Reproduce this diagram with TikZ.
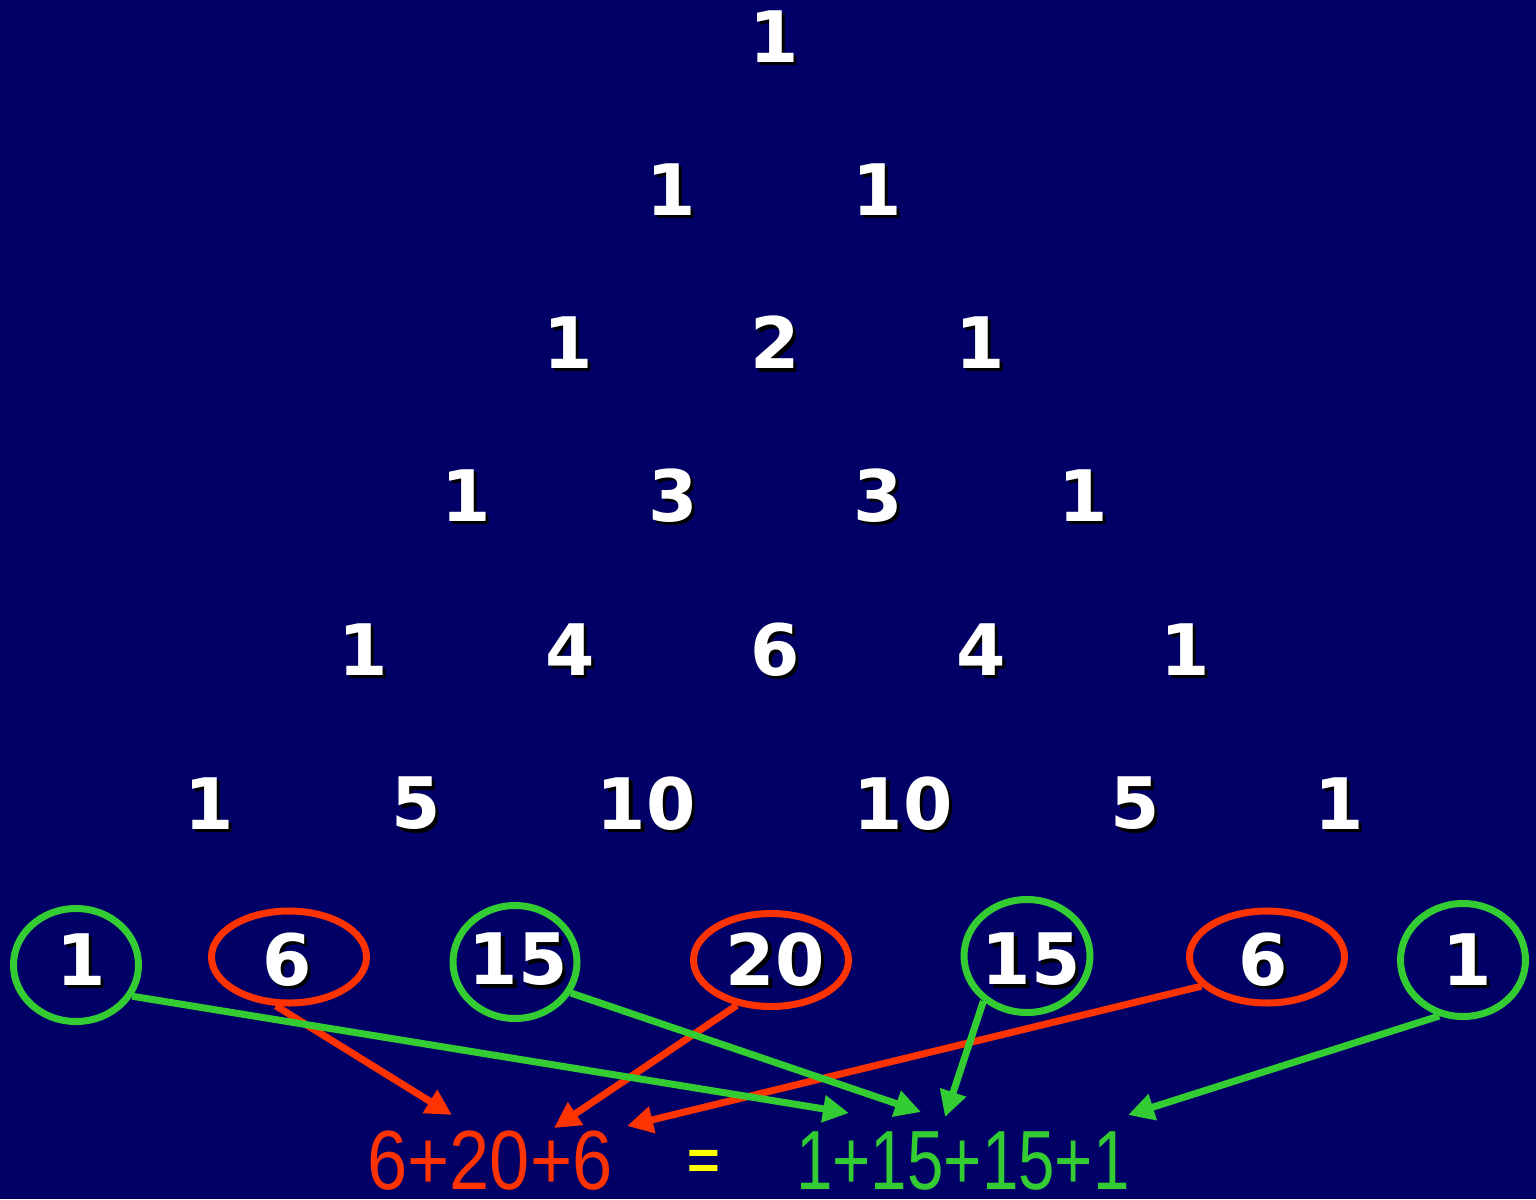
\documentclass[tikz,border=0pt]{standalone}
\usepackage{fontspec}
\usetikzlibrary{arrows.meta,shapes.geometric}
\newfontfamily\numfont{DejaVu Sans}
\newfontfamily\eqfontL[FakeStretch=0.86]{Liberation Sans}
\newfontfamily\eqfontR[FakeStretch=0.78]{Liberation Sans}
\newfontfamily\eqfont{Liberation Sans}
\definecolor{bg}{RGB}{0,0,102}
\definecolor{myred}{RGB}{255,51,0}
\definecolor{mygreen}{RGB}{51,204,51}
\definecolor{myyellow}{RGB}{255,255,0}
\newcommand\shtext[1]{\makebox[0pt][l]{\hspace*{3.5pt}\raisebox{-3.5pt}{\textcolor{black}{#1}}}#1}
\begin{document}
\begin{tikzpicture}[x=1pt,y=-1pt,
  num/.style={font=\numfont\bfseries\fontsize{71}{71}\selectfont, text=white, inner sep=0pt},
  gring/.style={ellipse, draw=mygreen, line width=7pt, inner sep=0pt},
  rring/.style={ellipse, draw=myred, line width=7pt, inner sep=0pt},
  rarrow/.style={draw=myred, line width=7pt, -{Triangle[length=26pt,width=26pt]}},
  garrow/.style={draw=mygreen, line width=7pt, -{Triangle[length=26pt,width=26pt]}},
  eqtext/.style={inner sep=0pt, anchor=base}
]
\fill[bg] (0,0) rectangle (1536,1199);
\useasboundingbox (0,0) rectangle (1536,1199);

% rows 0-5
\node[num] (a00) at (774,38) {\shtext{1}};
\node[num] (a10) at (671,191) {\shtext{1}};
\node[num] (a11) at (877,191) {\shtext{1}};
\node[num] (a20) at (568,344) {\shtext{1}};
\node[num] (a21) at (775,344) {\shtext{2}};
\node[num] (a22) at (980,344) {\shtext{1}};
\node[num] (a30) at (466,497) {\shtext{1}};
\node[num] (a31) at (673,497) {\shtext{3}};
\node[num] (a32) at (878,497) {\shtext{3}};
\node[num] (a33) at (1083,497) {\shtext{1}};
\node[num] (a40) at (363,651) {\shtext{1}};
\node[num] (a41) at (570,651) {\shtext{4}};
\node[num] (a42) at (775,651) {\shtext{6}};
\node[num] (a43) at (981,651) {\shtext{4}};
\node[num] (a44) at (1185,651) {\shtext{1}};
\node[num] (a50) at (209,805) {\shtext{1}};
\node[num] (a51) at (416,805) {\shtext{5}};
\node[num] (a52) at (646,805) {\shtext{10}};
\node[num] (a53) at (903,805) {\shtext{10}};
\node[num] (a54) at (1135,805) {\shtext{5}};
\node[num] (a55) at (1339,805) {\shtext{1}};

% row 6
\node[num] (a60) at (81,961) {\shtext{1}};
\node[num] (a61) at (287,961) {\shtext{6}};
\node[num] (a62) at (518,961) {\shtext{15}};
\node[num] (a63) at (775,961) {\shtext{20}};
\node[num] (a64) at (1031,961) {\shtext{15}};
\node[num] (a65) at (1263,961) {\shtext{6}};
\node[num] (a66) at (1467,961) {\shtext{1}};

% rings
\node[gring, minimum width=125pt, minimum height=113pt] (e0) at (76,965) {};
\node[rring, minimum width=155pt, minimum height=92pt] (e1) at (289,957) {};
\node[gring, minimum width=124pt, minimum height=113pt] (e2) at (515,962) {};
\node[rring, minimum width=155pt, minimum height=93pt] (e3) at (771,960) {};
\node[gring, minimum width=126pt, minimum height=113pt] (e4) at (1027,956) {};
\node[rring, minimum width=155pt, minimum height=92pt] (e5) at (1267,957) {};
\node[gring, minimum width=125pt, minimum height=113pt] (e6) at (1463,960) {};

% bottom equation
\node[eqtext, text=myred, font=\eqfontL\fontsize{84}{84}\selectfont] (lhs) at (490,1189) {6+20+6};
\node[font=\eqfont\bfseries\fontsize{56}{56}\selectfont, text=myyellow, inner sep=0pt] (eq) at (704,1165) {=};
\node[eqtext, text=mygreen, font=\eqfontR\fontsize{84}{84}\selectfont] (rhs) at (963,1189) {1+15+15+1};

% arrow tips
\coordinate (t1) at (452,1115);
\coordinate (t3) at (554,1128);
\coordinate (t5) at (627,1126);
\coordinate (t0) at (849,1113);
\coordinate (t2) at (921,1112);
\coordinate (t4) at (945,1117);
\coordinate (t6) at (1128,1115);

% red arrows
\draw[rarrow] (e1.-105) -- (t1);
\draw[rarrow] (e3.-127) -- (t3);
\draw[rarrow] (e5.-156) -- (t5);
% green arrows
\draw[garrow] (e0.-29) -- (t0);
\draw[garrow] (e2.-29) -- (t2);
\draw[garrow] (e4.-134) -- (t4);
\draw[garrow] (e6.-113) -- (t6);
\end{tikzpicture}
\end{document}
